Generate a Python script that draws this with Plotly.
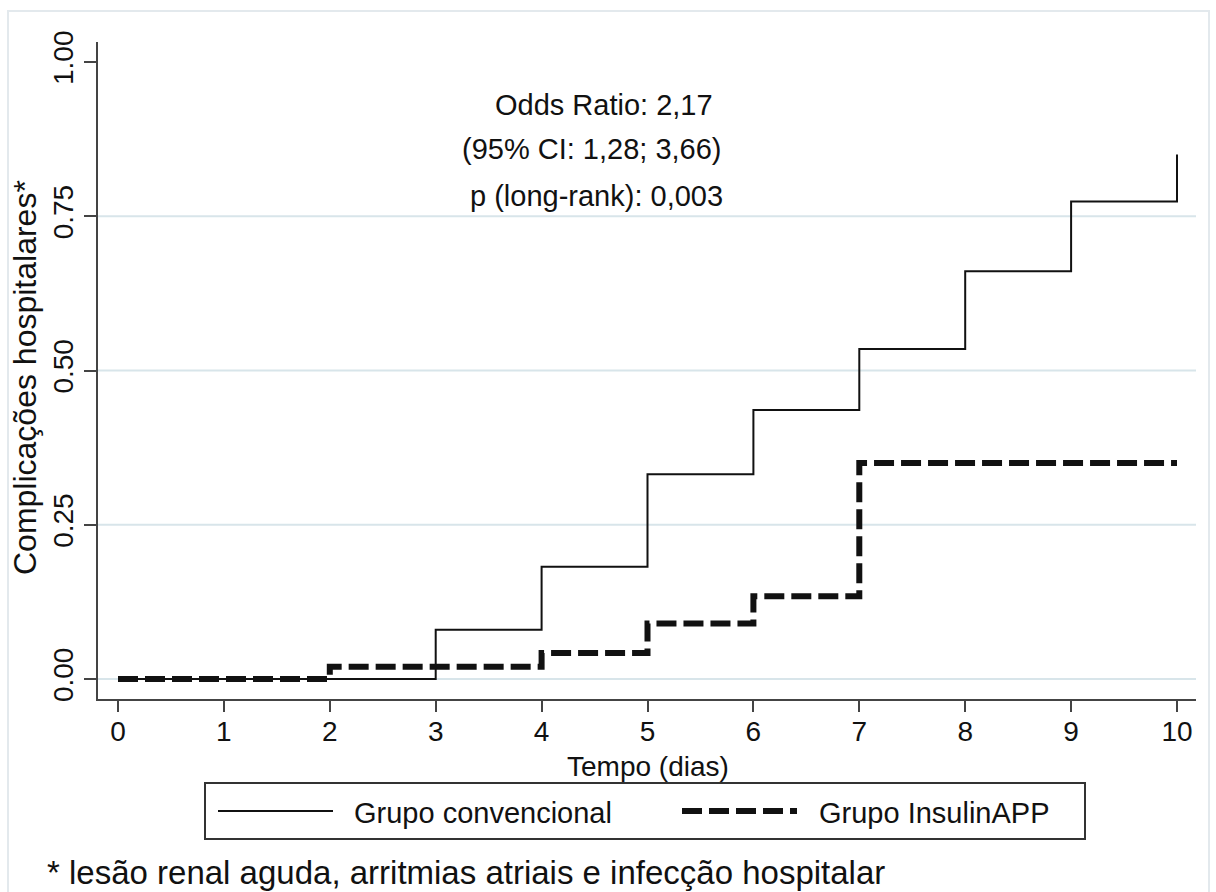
import plotly.graph_objects as go

# ---- data ----
dias_ticks = [0, 1, 2, 3, 4, 5, 6, 7, 8, 9, 10]
y_ticks = [0.0, 0.25, 0.50, 0.75, 1.00]
y_ticktext = ["0.00", "0.25", "0.50", "0.75", "1.00"]
grid_vals = [0.0, 0.25, 0.50, 0.75]

conv_t = [0, 3, 4, 5, 6, 7, 8, 9, 10]
conv_y = [0.0, 0.08, 0.182, 0.332, 0.436, 0.535, 0.661, 0.774, 0.850]

insu_t = [0, 2, 4, 5, 6, 7, 10]
insu_y = [0.0, 0.020, 0.042, 0.090, 0.134, 0.350, 0.350]

stats_text = ["Odds Ratio: 2,17", "(95% CI: 1,28; 3,66)", "p (long-rank): 0,003"]
stats_x = [4.59, 4.48, 4.52]
stats_y = [0.930, 0.859, 0.783]

legend_names = ["Grupo convencional", "Grupo InsulinAPP"]
footnote = "* lesão renal aguda, arritmias atriais e infecção hospitalar"

# ---- layout geometry ----
W, H = 1216, 892
L, R, T, B = 98, 20, 42, 193
PW, PH = W - L - R, H - T - B
FONT = "Liberation Sans, Arial, Helvetica, sans-serif"
INK = "#111111"


def px(x):
    return (x - L) / PW


def py(y):
    return (H - B - y) / PH


fig = go.Figure()
fig.add_trace(go.Scatter(
    x=conv_t, y=conv_y, mode="lines", line_shape="hv",
    line=dict(color=INK, width=2), name=legend_names[0], showlegend=False))
fig.add_trace(go.Scatter(
    x=insu_t, y=insu_y, mode="lines", line_shape="hv",
    line=dict(color=INK, width=6, dash="20px,7px"), name=legend_names[1], showlegend=False))

shapes = []
# outer frame
shapes.append(dict(type="rect", xref="paper", yref="paper",
                   x0=px(8), x1=px(1209), y0=py(11), y1=py(905),
                   line=dict(color="#e3e9ed", width=2), layer="below"))
# gridlines
for g in grid_vals:
    shapes.append(dict(type="line", xref="paper", yref="y", x0=0, x1=1, y0=g, y1=g,
                       line=dict(color="#d8e5ea", width=2), layer="below"))
# legend box + samples
shapes.append(dict(type="rect", xref="paper", yref="paper",
                   x0=px(205), x1=px(1085), y0=py(783), y1=py(839),
                   line=dict(color="#333333", width=2)))
shapes.append(dict(type="line", xref="paper", yref="paper",
                   x0=px(218), x1=px(333), y0=py(811), y1=py(811),
                   line=dict(color=INK, width=2)))
shapes.append(dict(type="line", xref="paper", yref="paper",
                   x0=px(682), x1=px(797), y0=py(811), y1=py(811),
                   line=dict(color=INK, width=6, dash="20px,7px")))

annotations = []
for t, x, y in zip(stats_text, stats_x, stats_y):
    annotations.append(dict(text=t, x=x, y=y, xref="x", yref="y", showarrow=False,
                            xanchor="center", yanchor="middle",
                            font=dict(family=FONT, size=29, color=INK)))
annotations.append(dict(text="Tempo (dias)", x=px(648), y=py(766), xref="paper", yref="paper",
                        showarrow=False, xanchor="center", yanchor="middle",
                        font=dict(family=FONT, size=28, color=INK)))
annotations.append(dict(text="Complicações hospitalares*", x=px(25), y=py(378),
                        xref="paper", yref="paper", showarrow=False, textangle=-90,
                        xanchor="center", yanchor="middle",
                        font=dict(family=FONT, size=32, color=INK)))
annotations.append(dict(text=legend_names[0], x=px(352), y=py(813), xref="paper", yref="paper",
                        showarrow=False, xanchor="left", yanchor="middle",
                        font=dict(family=FONT, size=29, color=INK)))
annotations.append(dict(text=legend_names[1], x=px(817), y=py(813), xref="paper", yref="paper",
                        showarrow=False, xanchor="left", yanchor="middle",
                        font=dict(family=FONT, size=29, color=INK)))
annotations.append(dict(text=footnote, x=px(45), y=py(872), xref="paper", yref="paper",
                        showarrow=False, xanchor="left", yanchor="middle",
                        font=dict(family=FONT, size=33, color=INK)))

x_lo = -20 / 105.9
x_hi = 10 + 19 / 105.9
y_lo = -20 / 617.3
y_hi = 1 + 20 / 617.3

fig.update_layout(
    width=W, height=H,
    margin=dict(l=L, r=R, t=T, b=B, pad=0),
    paper_bgcolor="white", plot_bgcolor="white",
    showlegend=False,
    shapes=shapes, annotations=annotations,
    font=dict(family=FONT, color=INK),
    xaxis=dict(range=[x_lo, x_hi], tickmode="array", tickvals=dias_ticks,
               ticks="outside", ticklen=11, tickwidth=2, tickcolor="#444444",
               showline=True, linecolor="#444444", linewidth=2,
               showgrid=False, zeroline=False, ticklabelstandoff=-5,
               tickfont=dict(family=FONT, size=28, color=INK)),
    yaxis=dict(range=[y_lo, y_hi], tickmode="array", tickvals=y_ticks, ticktext=y_ticktext,
               tickangle=-90, ticks="outside", ticklen=12, tickwidth=2, tickcolor="#444444",
               showline=True, linecolor="#444444", linewidth=2,
               showgrid=False, zeroline=False,
               tickfont=dict(family=FONT, size=28, color=INK)),
)

fig.write_html("out.html")
